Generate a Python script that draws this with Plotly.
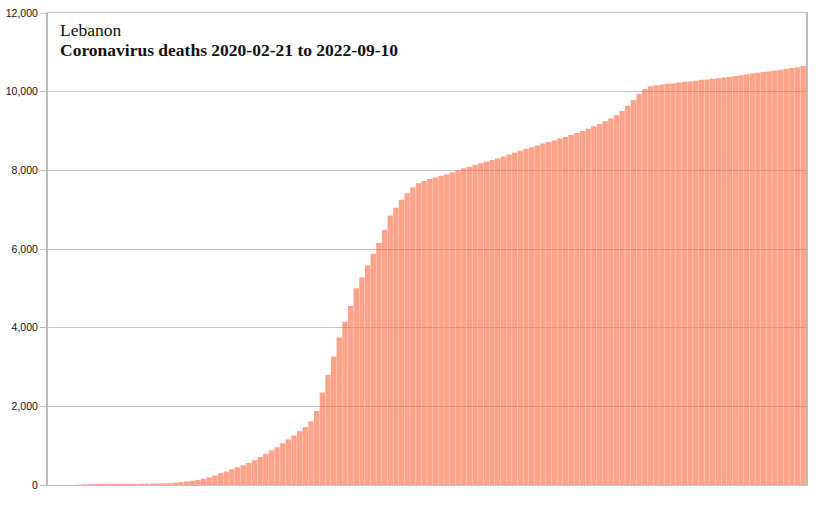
import pandas as pd
import plotly.graph_objects as go

# weekly cumulative deaths (one bar per week from 2020-02-21)
start_date = "2020-02-21"
deaths = [
    0, 0, 1, 3, 4, 10, 17, 21, 25, 26,
    26, 26, 26, 26, 26, 27, 31, 32, 34, 36,
    41, 46, 57, 71, 90, 105, 130, 160, 195, 240,
    300, 340, 400, 450, 500, 560, 630, 710, 790, 880,
    960, 1060, 1160, 1260, 1370, 1470, 1620, 1880, 2350, 2800,
    3270, 3750, 4150, 4550, 5000, 5280, 5580, 5880, 6150, 6480,
    6850, 7050, 7250, 7420, 7570, 7670, 7730, 7780, 7820, 7860,
    7900, 7950, 8000, 8050, 8090, 8140, 8180, 8220, 8260, 8300,
    8350, 8400, 8450, 8500, 8550, 8590, 8630, 8680, 8720, 8760,
    8810, 8850, 8900, 8950, 9000, 9060, 9120, 9180, 9250, 9320,
    9400, 9510, 9640, 9790, 9940, 10070, 10140, 10160, 10180, 10200,
    10210, 10230, 10250, 10260, 10280, 10300, 10310, 10330, 10340, 10360,
    10380, 10400, 10420, 10440, 10460, 10480, 10500, 10520, 10540, 10560,
    10580, 10600, 10620, 10650,
]
weeks = pd.date_range(start_date, periods=len(deaths), freq="7D").strftime("%Y-%m-%d").tolist()

y_ticks = [0, 2000, 4000, 6000, 8000, 10000, 12000]
title_lines = ["Lebanon", "Coronavirus deaths 2020-02-21 to 2022-09-10"]

bars = go.Bar(x=weeks, y=deaths, marker=dict(color="rgba(255,100,60,0.6)", line=dict(width=0)))

fig = go.Figure(data=[bars])
fig.update_layout(
    width=832, height=512,
    margin=dict(l=48, r=26, t=13, b=27),
    plot_bgcolor="white", paper_bgcolor="white",
    bargap=0.05, showlegend=False,
    font=dict(family="Liberation Sans", size=10.5, color="#111111"),
)
fig.update_xaxes(
    type="category", showticklabels=False, ticks="", showgrid=False,
    showline=True, linecolor="#c0c0c0", linewidth=1, mirror=True,
    range=[-0.5, len(deaths) - 0.5], automargin=False,
)
fig.update_yaxes(
    range=[0, 12000], tickvals=y_ticks, tickformat=",",
    showgrid=True, gridcolor="#c4c4c4", gridwidth=1,
    showline=True, linecolor="#bcbcbc", linewidth=2, mirror=True,
    ticks="outside", ticklen=6, tickcolor="#bcbcbc",
    zeroline=False, automargin=False,
)
title_font = dict(family="Liberation Serif", size=17.5, color="#111111")
fig.add_annotation(
    xref="paper", yref="paper", x=0.013, y=0.963, xanchor="left", yanchor="middle",
    showarrow=False, text=title_lines[0], font=title_font,
)
fig.add_annotation(
    xref="paper", yref="paper", x=0.013, y=0.921, xanchor="left", yanchor="middle",
    showarrow=False, text="<b>" + title_lines[1] + "</b>", font=title_font,
)

# drop the default body margin so the figure sits at the page corner
fig.write_html(
    "out.html",
    config={"displayModeBar": False},
    post_script="document.body.style.margin='0';document.body.style.overflow='hidden';",
)
